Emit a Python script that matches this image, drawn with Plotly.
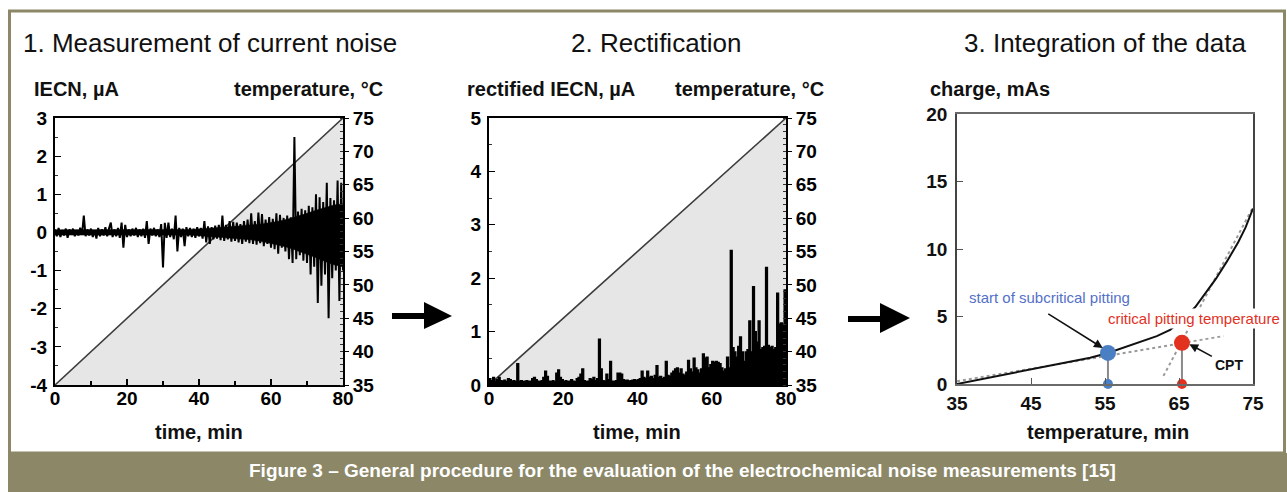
import plotly.graph_objects as go

# ---------------- data ----------------
sample_step_min = 0.5
iecn_ua = [
    0.08, -0.10, 0.12, -0.12, 0.06, -0.08, 0.10, -0.14, 0.08, -0.06,
    0.10, -0.10, 0.06, -0.08, 0.12, -0.06, 0.44, -0.10, 0.08, -0.08,
    0.10, -0.12, 0.06, -0.16, 0.12, -0.10, 0.08, -0.08, 0.14, -0.10,
    0.10, 0.26, -0.12, 0.08, -0.10, 0.12, -0.14, 0.26, -0.40, 0.20,
    -0.12, 0.08, -0.10, 0.10, -0.08, 0.12, -0.12, 0.08, -0.10, 0.10,
    -0.14, 0.30, -0.30, 0.10, -0.08, 0.12, -0.10, 0.08, -0.12, 0.22,
    -0.92, 0.25, -0.14, 0.26, -0.12, 0.10, -0.18, 0.44, -0.50, 0.12,
    -0.12, 0.10, -0.36, 0.14, -0.10, 0.12, -0.12, 0.10, -0.14, 0.14,
    -0.10, 0.12, -0.16, 0.30, -0.26, 0.16, -0.30, 0.14, -0.18, 0.18,
    -0.16, 0.20, -0.20, 0.44, -0.22, 0.20, -0.18, 0.30, -0.24, 0.28,
    -0.22, 0.26, -0.26, 0.22, -0.30, 0.30, -0.24, 0.34, -0.28, 0.50,
    -0.30, 0.30, -0.32, 0.52, -0.28, 0.48, -0.36, 0.34, -0.30, 0.40,
    -0.40, 0.36, -0.44, 0.50, -0.56, 0.46, -0.40, 0.38, -0.50, 0.44,
    -0.70, 0.40, -0.80, 2.50, -0.70, 0.55, -0.60, 0.62, -0.74, 0.58,
    -0.80, 0.70, -1.10, 0.66, -0.90, 1.00, -1.85, 0.92, -1.40, 0.80,
    -1.10, 1.30, -2.25, 0.90, -1.20, 0.84, -1.00, 1.36, -1.80, 1.30,
    -1.00,
]
# solid core of the noise trace (read every 2.5 min)
band_step_min = 2.5
iecn_core_upper = [0.07, 0.07, 0.07, 0.07, 0.07, 0.07, 0.07, 0.07, 0.07, 0.07,
                   0.07, 0.07, 0.08, 0.08, 0.08, 0.08, 0.09, 0.10, 0.12, 0.14,
                   0.16, 0.18, 0.20, 0.22, 0.26, 0.30, 0.36, 0.42, 0.50, 0.58,
                   0.66, 0.72, 0.75]
iecn_core_lower = [-0.07, -0.07, -0.07, -0.07, -0.07, -0.07, -0.07, -0.07, -0.07, -0.07,
                   -0.07, -0.07, -0.07, -0.07, -0.07, -0.07, -0.09, -0.10, -0.12, -0.14,
                   -0.16, -0.18, -0.20, -0.24, -0.28, -0.34, -0.40, -0.48, -0.56, -0.66,
                   -0.76, -0.85, -0.90]
rectified_ua = [
    0.12, 0.08, 0.14, 0.07, 0.10, 0.14, 0.08, 0.07, 0.09, 0.06,
    0.12, 0.10, 0.07, 0.08, 0.06, 0.40, 0.07, 0.08, 0.06, 0.07,
    0.08, 0.06, 0.07, 0.12, 0.14, 0.10, 0.07, 0.06, 0.08, 0.14,
    0.26, 0.16, 0.07, 0.06, 0.08, 0.06, 0.22, 0.28, 0.14, 0.07,
    0.06, 0.08, 0.06, 0.07, 0.10, 0.07, 0.06, 0.12, 0.14, 0.20,
    0.30, 0.08, 0.06, 0.07, 0.12, 0.10, 0.14, 0.08, 0.12, 0.86,
    0.30, 0.08, 0.07, 0.20, 0.10, 0.44, 0.07, 0.06, 0.08, 0.22,
    0.22, 0.20, 0.10, 0.08, 0.09, 0.07, 0.08, 0.09, 0.10, 0.08,
    0.10, 0.12, 0.26, 0.14, 0.12, 0.26, 0.14, 0.16, 0.12, 0.18,
    0.36, 0.14, 0.16, 0.12, 0.14, 0.44, 0.18, 0.16, 0.22, 0.26,
    0.30, 0.32, 0.22, 0.30, 0.20, 0.18, 0.24, 0.46, 0.30, 0.24,
    0.50, 0.32, 0.28, 0.22, 0.30, 0.58, 0.50, 0.52, 0.32, 0.38,
    0.44, 0.42, 0.44, 0.42, 0.40, 0.32, 0.26, 0.30, 0.52, 0.32,
    2.52, 0.70, 0.62, 0.52, 0.72, 0.90, 0.62, 0.44, 0.62, 0.66,
    1.20, 0.62, 1.84, 1.00, 0.80, 1.20, 0.66, 0.70, 0.72, 2.20,
    0.74, 0.70, 0.72, 0.66, 0.70, 1.72, 1.14, 1.16, 1.14, 1.78,
    1.16,
]
time_min = [i * sample_step_min for i in range(len(iecn_ua))]
band_time_min = [i * band_step_min for i in range(len(iecn_core_upper))]

ramp_time_min = [0, 80]
ramp_temp_c = [35, 75]

charge_temp_c = [35, 38, 41, 44, 47, 50, 53, 55.4, 57.4, 60, 62, 63.8, 65.5,
                 67.2, 68.5, 70, 71.5, 73, 74, 75]
charge_mas = [0.0, 0.32, 0.65, 1.0, 1.3, 1.6, 1.95, 2.3, 2.67, 3.15, 3.55, 4.0,
              4.8, 5.7, 6.7, 7.8, 9.1, 10.5, 11.6, 13.0]
fit_low_t = [35, 71]
fit_low_q = [0.2, 3.55]
fit_high_t = [62.9, 75]
fit_high_q = [0.6, 13.1]
scp_t, scp_q = 55.4, 2.3
cpt_t, cpt_q = 65.4, 3.05

x1_ticks = [0, 20, 40, 60, 80]
x3_ticks = [35, 45, 55, 65, 75]
iecn_ticks = [-4, -3, -2, -1, 0, 1, 2, 3]
iecn_ticktext = ["-4", "-3", "-2", "-1", "0", "1", "2", "3"]

# ---------------- helpers ----------------
W, H = 1287, 492
def px(x):
    return x / W
def py(y):
    return 1 - y / H

FONT = "Liberation Sans, Arial, sans-serif"
OLIVE = "#8b8767"
tickfont = dict(family=FONT, size=19, color="black", weight="bold")
tickfont3 = dict(family=FONT, size=19, color="#111", weight="bold")

fig = go.Figure()

# Panel 1
fig.add_trace(go.Scatter(x=ramp_time_min, y=ramp_temp_c, xaxis="x", yaxis="y",
                         mode="lines", line=dict(color="#3c3c3c", width=1.6),
                         fill="tozeroy", fillcolor="#e6e6e6", hoverinfo="skip"))
fig.add_trace(go.Scatter(x=band_time_min, y=iecn_core_lower, xaxis="x", yaxis="y2",
                         mode="lines", line=dict(color="black", width=0.5)))
fig.add_trace(go.Scatter(x=band_time_min, y=iecn_core_upper, xaxis="x", yaxis="y2",
                         mode="lines", line=dict(color="black", width=0.5),
                         fill="tonexty", fillcolor="black"))
fig.add_trace(go.Scatter(x=time_min, y=iecn_ua, xaxis="x", yaxis="y2",
                         mode="lines", line=dict(color="black", width=2.0)))
# Panel 2
fig.add_trace(go.Scatter(x=ramp_time_min, y=ramp_temp_c, xaxis="x2", yaxis="y3",
                         mode="lines", line=dict(color="#3c3c3c", width=1.6),
                         fill="tozeroy", fillcolor="#e6e6e6", hoverinfo="skip"))
fig.add_trace(go.Scatter(x=time_min, y=rectified_ua, xaxis="x2", yaxis="y4",
                         mode="lines", line=dict(color="black", width=1.4, shape="hv"),
                         fill="tozeroy", fillcolor="black"))
# Panel 3
fig.add_trace(go.Scatter(x=fit_low_t, y=fit_low_q, xaxis="x3", yaxis="y5", mode="lines",
                         line=dict(color="#9a9a9a", width=2, dash="dot")))
fig.add_trace(go.Scatter(x=fit_high_t, y=fit_high_q, xaxis="x3", yaxis="y5", mode="lines",
                         line=dict(color="#9a9a9a", width=2, dash="dot")))
fig.add_trace(go.Scatter(x=charge_temp_c, y=charge_mas, xaxis="x3", yaxis="y5", mode="lines",
                         line=dict(color="#111", width=2)))
for t, q, col in [(scp_t, scp_q, "#4a7fc4"), (cpt_t, cpt_q, "#e2311f")]:
    fig.add_trace(go.Scatter(x=[t, t], y=[0, q], xaxis="x3", yaxis="y5", mode="lines",
                             line=dict(color="#8a8a8a", width=2)))
    fig.add_trace(go.Scatter(x=[t], y=[q], xaxis="x3", yaxis="y5", mode="markers",
                             marker=dict(color=col, size=16), cliponaxis=False))
    fig.add_trace(go.Scatter(x=[t], y=[0], xaxis="x3", yaxis="y5", mode="markers",
                             marker=dict(color=col, size=10), cliponaxis=False))

common = dict(showgrid=False, zeroline=False, showline=True, fixedrange=True)
ydom = [py(385), py(118)]
layout_axes = dict(
    xaxis=dict(domain=[px(55), px(343)], anchor="y", range=[0, 80], tickvals=x1_ticks,
               ticks="inside", ticklen=6, tickwidth=1.5, tickcolor="black",
               minor=dict(dtick=10, ticks="inside", ticklen=4, tickcolor="black", showgrid=False),
               linecolor="black", linewidth=2, mirror=True, tickfont=tickfont,
               ticklabelstandoff=-5, **common),
    yaxis=dict(domain=ydom, anchor="x", side="right", range=[35, 75], dtick=5,
               ticks="outside", ticklen=4, tickcolor="black",
               minor=dict(dtick=1, ticks="inside", ticklen=3, tickcolor="#333", showgrid=False),
               linecolor="black", linewidth=2, tickfont=tickfont, **common),
    yaxis2=dict(overlaying="y", anchor="x", side="left", range=[-4, 3],
                tickvals=iecn_ticks, ticktext=iecn_ticktext,
                ticks="inside", ticklen=6, tickcolor="black",
                minor=dict(dtick=0.5, ticks="inside", ticklen=3, tickcolor="#333", showgrid=False),
                linecolor="black", linewidth=2, tickfont=tickfont, ticklabelstandoff=2, **common),
    xaxis2=dict(domain=[px(489), px(786)], anchor="y3", range=[0, 80], tickvals=x1_ticks,
                ticks="inside", ticklen=6, tickwidth=1.5, tickcolor="black",
                minor=dict(dtick=10, ticks="inside", ticklen=4, tickcolor="black", showgrid=False),
                linecolor="black", linewidth=2, mirror=True, tickfont=tickfont,
                ticklabelstandoff=-5, **common),
    yaxis3=dict(domain=ydom, anchor="x2", side="right", range=[35, 75], dtick=5,
                ticks="outside", ticklen=4, tickcolor="black",
                minor=dict(dtick=1, ticks="inside", ticklen=3, tickcolor="#333", showgrid=False),
                linecolor="black", linewidth=2, tickfont=tickfont, **common),
    yaxis4=dict(overlaying="y3", anchor="x2", side="left", range=[0, 5], dtick=1,
                ticks="inside", ticklen=6, tickcolor="black",
                minor=dict(dtick=0.5, ticks="inside", ticklen=3, tickcolor="#333", showgrid=False),
                linecolor="black", linewidth=2, tickfont=tickfont, ticklabelstandoff=2, **common),
    xaxis3=dict(domain=[px(957), px(1253)], anchor="y5", range=[35, 75], tickvals=x3_ticks,
                ticks="inside", ticklen=6, tickcolor="#555",
                linecolor="#6a6a6a", linewidth=1.5, mirror=True, tickfont=tickfont3,
                ticklabelstandoff=1, **common),
    yaxis5=dict(domain=[py(384), py(114)], anchor="x3", range=[0, 20], dtick=5,
                ticks="inside", ticklen=6, tickcolor="#555",
                linecolor="#444", linewidth=1.5, mirror=True, tickfont=tickfont3,
                ticklabelstandoff=4, **common),
)

annotations = []
def label(text, x, y, size, bold=False, color="#111", xanchor="center", **kw):
    annotations.append(dict(text=text, x=px(x), y=py(y), xref="paper", yref="paper",
                            xanchor=xanchor, yanchor="middle", showarrow=False,
                            font=dict(family=FONT, size=size, color=color,
                                      weight="bold" if bold else "normal"), **kw))

label("1. Measurement of current noise", 209.5, 43, 26)
label("2. Rectification", 656.5, 43, 26)
label("3. Integration of the data", 1105, 43, 26)
label("IECN, µA", 76, 89, 20, bold=True)
label("temperature, °C", 308.5, 89, 20, bold=True)
label("rectified IECN, µA", 550.5, 89, 20, bold=True)
label("temperature, °C", 749.5, 89, 20, bold=True)
label("charge, mAs", 990, 89, 20, bold=True)
label("time, min", 199, 432, 20, bold=True)
label("time, min", 637, 432, 20, bold=True)
label("temperature, min", 1107.5, 432, 20, bold=True)
label("start of subcritical pitting", 1049, 297, 15, color="#5470c8")
label("critical pitting temperature", 1193.5, 318, 15, color="#e2311f", bgcolor="white")
label("CPT", 1229, 365, 14, bold=True, color="#111")
label("Figure 3 – General procedure for the evaluation of the electrochemical noise measurements [15]",
      682, 470, 19, bold=True, color="white")
annotations[-1]["font"]["family"] = "Liberation Sans Narrow, Arial Narrow, Liberation Sans, sans-serif"

# small arrows in panel 3
annotations.append(dict(x=54.7, y=2.67, xref="x3", yref="y5", ax=-56, ay=-35,
                        showarrow=True, arrowhead=2, arrowsize=1.1, arrowwidth=1.6,
                        arrowcolor="#111", text=""))
annotations.append(dict(x=66.4, y=2.95, xref="x3", yref="y5", ax=24, ay=13,
                        showarrow=True, arrowhead=2, arrowsize=1.1, arrowwidth=1.6,
                        arrowcolor="#111", text=""))

def path(points):
    s = "M " + " L ".join(f"{px(a):.5f},{py(b):.5f}" for a, b in points) + " Z"
    return s

shapes = [
    dict(type="rect", xref="paper", yref="paper", x0=px(9.5), x1=px(1284.5),
         y0=py(453), y1=py(11), line=dict(color=OLIVE, width=3), fillcolor="rgba(0,0,0,0)",
         layer="below"),
    dict(type="rect", xref="paper", yref="paper", x0=px(8), x1=1, y0=0, y1=py(453),
         line=dict(width=0), fillcolor=OLIVE, layer="below"),
    # big arrow 1
    dict(type="path", xref="paper", yref="paper",
         path=path([(392, 313), (424, 313), (424, 302), (452, 316), (424, 329), (424, 319), (392, 319)]),
         fillcolor="black", line=dict(width=0)),
    # big arrow 2
    dict(type="path", xref="paper", yref="paper",
         path=path([(848, 316), (880, 316), (880, 303), (910, 318), (880, 333), (880, 322), (848, 322)]),
         fillcolor="black", line=dict(width=0)),
]

fig.update_layout(
    width=W, height=H, margin=dict(l=0, r=0, t=0, b=0),
    paper_bgcolor="white", plot_bgcolor="white", template="none",
    showlegend=False, annotations=annotations, shapes=shapes,
    **layout_axes,
)

fig.write_html("out.html", config={"displayModeBar": False})
